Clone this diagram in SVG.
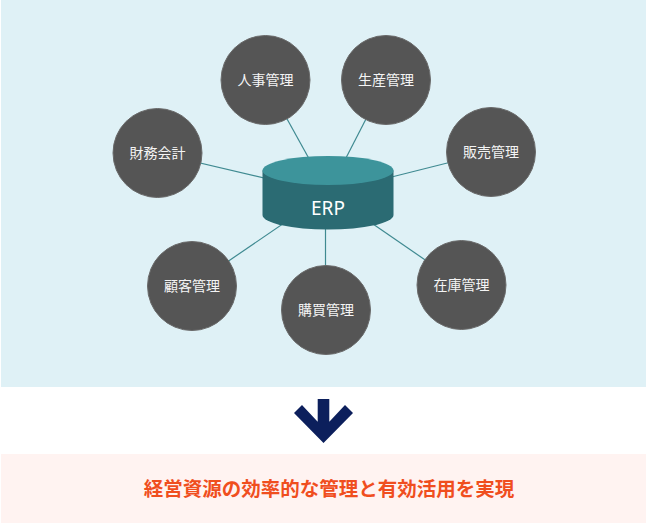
<svg xmlns="http://www.w3.org/2000/svg" width="646" height="524" viewBox="0 0 646 524">
  <style>
    .node circle { fill: #555555; stroke: #6a6a6a; stroke-width: 1; }
    .node text { fill: #f4f4f4; font-family: "Noto Sans CJK JP", "Noto Sans", sans-serif; font-size: 14px; text-anchor: middle; }
    .conn line { stroke: #3f8a91; stroke-width: 1.2; }
  </style>
  <rect x="1" y="0" width="645" height="387" fill="#dff1f6"/>
  <rect x="1" y="454" width="645" height="69" fill="#fff3f1"/>
  <g id="connectors" class="conn">
    <line x1="265.5" y1="80" x2="328" y2="193"/>
    <line x1="386" y1="80" x2="328" y2="193"/>
    <line x1="157.5" y1="153" x2="328" y2="193"/>
    <line x1="491" y1="152" x2="328" y2="193"/>
    <line x1="192" y1="286" x2="328" y2="193"/>
    <line x1="325.5" y1="310" x2="325.5" y2="193"/>
    <line x1="461.5" y1="285" x2="328" y2="193"/>
  </g>
  <g id="erp">
    <path d="M262.5,170.5 L262.5,215 A65.5,14.5 0 0 0 393.5,215 L393.5,170.5 Z" fill="#2b6b73"/>
    <ellipse cx="328" cy="170.5" rx="65.5" ry="14.5" fill="#3d949b"/>
    <text x="328" y="214.5" fill="#ffffff" font-family="Noto Sans, sans-serif" font-size="19" text-anchor="middle">ERP</text>
  </g>
  <g id="jinji" class="node"><circle cx="265.5" cy="80" r="44.5"/><text x="265.5" y="85">人事管理</text></g>
  <g id="seisan" class="node"><circle cx="386" cy="80" r="44.5"/><text x="386" y="85">生産管理</text></g>
  <g id="zaimu" class="node"><circle cx="157.5" cy="153" r="44.5"/><text x="157.5" y="158">財務会計</text></g>
  <g id="hanbai" class="node"><circle cx="491" cy="152" r="44.5"/><text x="491" y="157">販売管理</text></g>
  <g id="kokyaku" class="node"><circle cx="192" cy="286" r="44.5"/><text x="192" y="291">顧客管理</text></g>
  <g id="kobai" class="node"><circle cx="326" cy="310" r="44.5"/><text x="326" y="315">購買管理</text></g>
  <g id="zaiko" class="node"><circle cx="461.5" cy="285" r="44.5"/><text x="461.5" y="290">在庫管理</text></g>
  <g id="arrow">
    <polygon points="317.7,399 329.3,399 329.3,421.7 345,405 353,413 323.5,443 294,413 302,405 317.7,421.7" fill="#0c1f5c"/>
  </g>
  <text x="329" y="495.5" fill="#f04e1e" font-family="Noto Sans CJK JP, sans-serif" font-size="19.5" font-weight="bold" text-anchor="middle">経営資源の効率的な管理と有効活用を実現</text>
</svg>
